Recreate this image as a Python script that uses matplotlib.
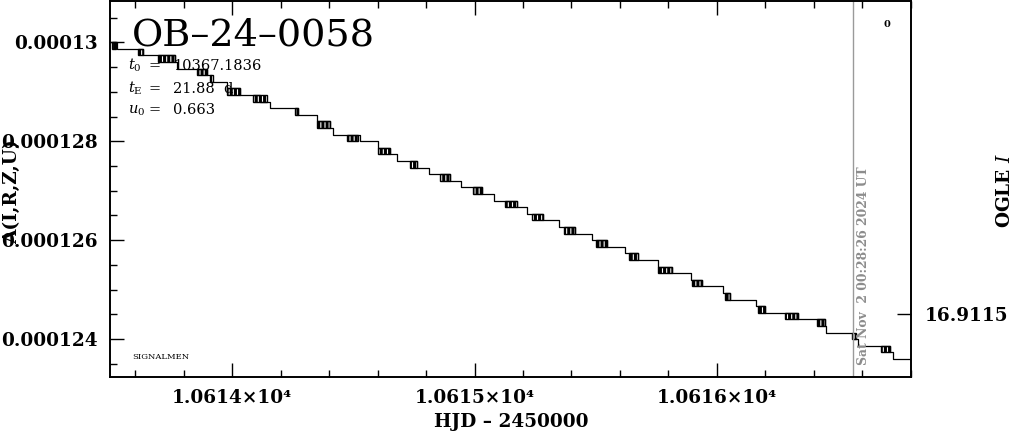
import matplotlib

matplotlib.use("Agg")
import matplotlib.pyplot as plt
import numpy as np
from matplotlib.ticker import MultipleLocator, NullLocator

# ---- data ------------------------------------------------------------------
EVENT = "OB\u201324\u20130058"
T0 = "10367.1836"
TE = "21.88  d"
U0 = "0.663"
NOW_HJD = 10616.562
NOW_LABEL = "Sat Nov  2 00:28:26 2024 UT"

# quantised model flux levels (units of 1e-6)
level_flux = [130.004, 129.871, 129.737, 129.604, 129.470, 129.337, 129.203,
              129.070, 128.936, 128.803, 128.669, 128.536, 128.402, 128.269,
              128.135, 128.002, 127.868, 127.735, 127.601, 127.468, 127.335,
              127.201, 127.068, 126.934, 126.801, 126.667, 126.534, 126.400,
              126.267, 126.133, 126.000, 125.866, 125.733, 125.599, 125.466,
              125.332, 125.199, 125.066, 124.932, 124.799, 124.665, 124.532,
              124.398, 124.265, 124.131, 123.998, 123.864, 123.731, 123.597]

# HJD-2450000 at which the curve settles on each level
step_hjd = [10613.495, 10613.5239, 10613.6313, 10613.7634, 10613.7717,
            10613.8955, 10613.9121, 10613.9781, 10614.0318, 10614.1144,
            10614.1557, 10614.2713, 10614.3497, 10614.4034, 10614.4158,
            10614.5273, 10614.6016, 10614.6511, 10614.6813, 10614.7626,
            10614.8134, 10614.8988, 10614.9455, 10615.0310, 10615.0818,
            10615.1755, 10615.2155, 10615.2828, 10615.3501, 10615.4150,
            10615.4851, 10615.5471, 10615.6214, 10615.6751, 10615.7564,
            10615.8155, 10615.8927, 10615.9393, 10616.0273, 10616.0549,
            10616.1610, 10616.1994, 10616.3357, 10616.4471, 10616.4512,
            10616.5627, 10616.5834, 10616.7155, 10616.7279]

# flicker blocks: start, end, upper level index (toggles between n and n+1)
flick_start = [10613.5033, 10613.6098, 10613.6949, 10613.8543, 10613.9079,
               10613.9781, 10614.0855, 10614.2589, 10614.3497, 10614.4736,
               10614.6016, 10614.7337, 10614.8576, 10614.9938, 10615.1259,
               10615.2374, 10615.3695, 10615.5017, 10615.6379, 10615.7576,
               10615.8981, 10616.0343, 10616.1713, 10616.2820, 10616.4141,
               10616.5586, 10616.6784]
flick_end = [10613.5198, 10613.6313, 10613.7634, 10613.8955, 10613.9203,
             10614.0318, 10614.1433, 10614.2713, 10614.4034, 10614.5190,
             10614.6511, 10614.7626, 10614.8988, 10615.0310, 10615.1755,
             10615.2828, 10615.4150, 10615.5471, 10615.6751, 10615.8155,
             10615.9393, 10616.0549, 10616.1994, 10616.3357, 10616.4471,
             10616.5751, 10616.7155]
flick_level = [0, 1, 2, 4, 5, 7, 8, 10, 12, 14, 16, 18, 20, 22, 24, 26, 28,
               30, 32, 34, 36, 38, 40, 41, 42, 44, 46]

XLIM = (10613.495, 10616.801)
YLIM = (0.00012324, 0.00013084)
xtick_vals = [10614, 10615, 10616]
xtick_labels = ["1.0614\u00d710\u2074", "1.0615\u00d710\u2074", "1.0616\u00d710\u2074"]
ytick_vals = [0.000124, 0.000126, 0.000128, 0.00013]
ytick_labels = ["0.000124", "0.000126", "0.000128", "0.00013"]
mag_tick_vals = [16.9115]
mag_tick_labels = ["16.9115"]
MAG_LIM = (16.9117, 16.9105)

# ---- figure ------------------------------------------------------------------
plt.rcParams["font.family"] = "DejaVu Serif"
plt.rcParams["mathtext.fontset"] = "dejavuserif"
plt.rcParams["hatch.linewidth"] = 2.2

fig = plt.figure(figsize=(10.14, 4.34), dpi=100)
ax = fig.add_axes([0.1085, 0.132, 0.7897, 0.866])

flux = np.array(level_flux) * 1e-6
x = np.append(step_hjd, XLIM[1])
y = np.append(flux, flux[-1])
ax.step(x, y, where="post", color="black", lw=0.9)

# flicker blocks drawn as hatched boxes (dense vertical toggles)
fs = np.array(flick_start)
fe = np.array(flick_end)
fl = np.array(flick_level)
ax.bar(fs, flux[fl] - flux[fl + 1], width=fe - fs, bottom=flux[fl + 1],
       align="edge", fill=False, edgecolor="black", hatch="||||", linewidth=1.0)

ax.axvline(NOW_HJD, color="#9a9a9a", lw=1)
ax.annotate(NOW_LABEL, xy=(NOW_HJD, 0.031), xycoords=("data", "axes fraction"),
            xytext=(3, 0), textcoords="offset points", rotation=90,
            ha="left", va="bottom", color="#8c8c8c", fontsize=8.9,
            fontweight="bold")

ax.set_xlim(*XLIM)
ax.set_ylim(*YLIM)
ax.set_xticks(xtick_vals, labels=xtick_labels)
ax.set_yticks(ytick_vals, labels=ytick_labels)
ax.xaxis.set_minor_locator(MultipleLocator(0.2))
ax.yaxis.set_minor_locator(MultipleLocator(0.5e-6))
ax.tick_params(axis="x", which="both", direction="in", top=True, bottom=True,
               width=1, labelsize=13.3, pad=9)
ax.tick_params(axis="y", which="both", direction="in", left=True, right=False,
               width=1, labelsize=13.3, pad=9)
ax.tick_params(which="major", length=10)
ax.tick_params(which="minor", length=5)
for lbl in ax.get_xticklabels() + ax.get_yticklabels():
    lbl.set_fontweight("bold")
for sp in ax.spines.values():
    sp.set_linewidth(1.2)

ax2 = ax.twinx()
ax2.set_ylim(*MAG_LIM)
ax2.set_yticks(mag_tick_vals, labels=mag_tick_labels)
ax2.yaxis.set_minor_locator(NullLocator())
ax2.tick_params(axis="y", direction="in", length=10, width=1, labelsize=13.3, pad=10)
for lbl in ax2.get_yticklabels():
    lbl.set_fontweight("bold")
for sp in ax2.spines.values():
    sp.set_linewidth(1.2)

# annotations
ax.text(0.0275, 0.8805, EVENT, transform=ax.transAxes, fontsize=27.5,
        va="baseline", ha="left")
rows = [(r"$t_0$", T0, 0.8159), (r"$t_{\rm E}$", TE, 0.7558), (r"$u_0$", U0, 0.6999)]
for sym, val, yy in rows:
    ax.text(0.0228, yy, sym, transform=ax.transAxes, fontsize=10.5, va="baseline")
    ax.text(0.0475, yy, "=", transform=ax.transAxes, fontsize=10.5, va="baseline")
    ax.text(0.0785, yy, val, transform=ax.transAxes, fontsize=10.5, va="baseline")
ax.text(0.0275, 0.047, "SIGNALMEN", transform=ax.transAxes, fontsize=6,
        va="baseline")
ax.text(0.970, 0.9376, "0", transform=ax.transAxes, fontsize=7,
        fontweight="bold", ha="center", va="center")

fig.text(0.0123, 0.5576, "A(I,R,Z,U)", rotation=90, ha="center", va="center",
         fontsize=13.3, fontweight="bold")
fig.text(0.504, 0.0265, "HJD \u2013 2450000", ha="center", va="center",
         fontsize=13.3, fontweight="bold")
fig.text(0.991, 0.562, r"OGLE $\mathit{I}$", rotation=90, ha="center",
         va="center", fontsize=13.3, fontweight="bold")

fig.savefig("out.png", dpi=100)
plt.close(fig)
